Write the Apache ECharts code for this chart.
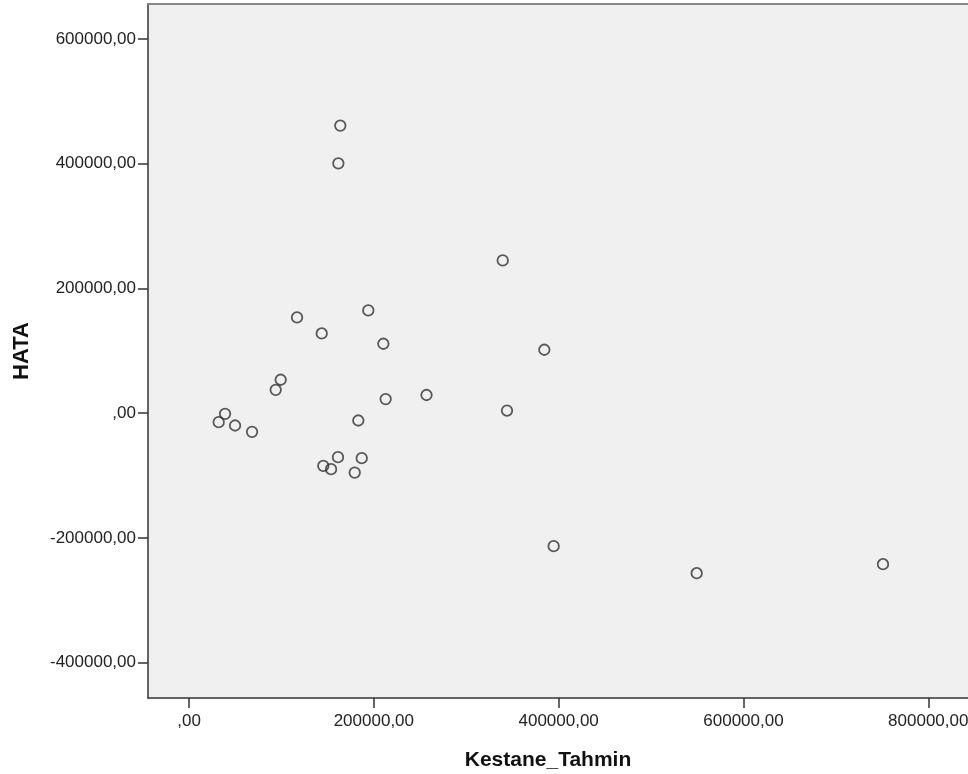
<!DOCTYPE html>
<html>
<head>
<meta charset="utf-8">
<script src="https://cdn.jsdelivr.net/npm/echarts@6/dist/echarts.min.js"></script>
<style>
  html, body { margin: 0; padding: 0; background: #ffffff; overflow: hidden; }
  #chart { width: 968px; height: 774px; }
</style>
</head>
<body>
<div id="chart"></div>
<script>
// Predicted values (Kestane_Tahmin) and residuals (HATA)
const kestaneTahmin = [
  163700, 161600, 339500, 194000, 116900, 143600, 210300, 384500,
  99200, 93800, 257000, 212800, 344100, 39000, 32100, 49800,
  183200, 68200, 161200, 186900, 145300, 153700, 179300, 394600,
  549400, 751000
];
const hata = [
  460900, 400500, 244900, 164700, 153500, 127800, 111300, 101700,
  53600, 37500, 29200, 22600, 4300, -1000, -14300, -19700,
  -11700, -29800, -70400, -72000, -84400, -89700, -95100, -213100,
  -256400, -242000
];

// Tick positions on each axis
const xTicks = [0, 200000, 400000, 600000, 800000];
const yTicks = [-400000, -200000, 0, 200000, 400000, 600000];

// Axis extents (the plot frame is open on the right)
const xMin = -44400, xMax = 843000;
const yMin = -456400, yMax = 655800;

// Number format with comma decimal separator; zero shows as ",00"
function fmt(v) {
  if (v === 0) return ',00';
  return v.toFixed(2).replace('.', ',');
}

const points = kestaneTahmin.map((x, i) => [x, hata[i]]);

const chart = echarts.init(document.getElementById('chart'), null, { renderer: 'canvas' });

const labelFont = {
  fontFamily: 'Liberation Sans, Arial, sans-serif',
  fontSize: 17,
  color: '#222222'
};

chart.setOption({
  animation: false,
  backgroundColor: '#ffffff',
  grid: {
    left: 148,
    top: 4,
    right: 0,
    bottom: 76,
    outerBoundsMode: 'none',
    show: true,
    backgroundColor: '#f0f0f0',
    borderWidth: 0
  },
  xAxis: [{
    type: 'value',
    min: xMin,
    max: xMax,
    name: 'Kestane_Tahmin',
    nameLocation: 'middle',
    nameGap: 52,
    nameTextStyle: {
      fontFamily: 'Liberation Sans, Arial, sans-serif',
      fontSize: 21,
      fontWeight: 'bold',
      color: '#111111',
      padding: [0, 20, 0, 0]
    },
    splitLine: { show: false },
    axisLine: { show: true, onZero: false, lineStyle: { color: '#333333', width: 1.5 } },
    axisTick: {
      show: true,
      inside: false,
      length: 10,
      customValues: xTicks,
      lineStyle: { color: '#333333', width: 1.5 }
    },
    axisLabel: Object.assign({
      customValues: xTicks,
      margin: 15,
      hideOverlap: false,
      formatter: fmt
    }, labelFont)
  }, {
    // top edge of the frame
    type: 'value',
    position: 'top',
    min: xMin,
    max: xMax,
    splitLine: { show: false },
    axisLine: { show: true, onZero: false, lineStyle: { color: '#888888', width: 2 } },
    axisTick: { show: false },
    axisLabel: { show: false }
  }],
  yAxis: {
    type: 'value',
    min: yMin,
    max: yMax,
    name: 'HATA',
    nameLocation: 'middle',
    nameGap: 115,
    nameRotate: 90,
    nameTextStyle: {
      fontFamily: 'Liberation Sans, Arial, sans-serif',
      fontSize: 22,
      fontWeight: 'bold',
      color: '#111111'
    },
    splitLine: { show: false },
    axisLine: { show: true, onZero: false, lineStyle: { color: '#333333', width: 1.5 } },
    axisTick: {
      show: true,
      inside: false,
      length: 10,
      customValues: yTicks,
      lineStyle: { color: '#333333', width: 1.5 }
    },
    axisLabel: Object.assign({
      customValues: yTicks,
      margin: 12,
      formatter: fmt
    }, labelFont)
  },
  series: [{
    type: 'scatter',
    data: points,
    symbol: 'circle',
    symbolSize: 10.5,
    itemStyle: {
      color: 'rgba(0,0,0,0)',
      borderColor: '#333333',
      borderWidth: 1.8
    },
    emphasis: { disabled: true }
  }]
});
</script>
</body>
</html>
